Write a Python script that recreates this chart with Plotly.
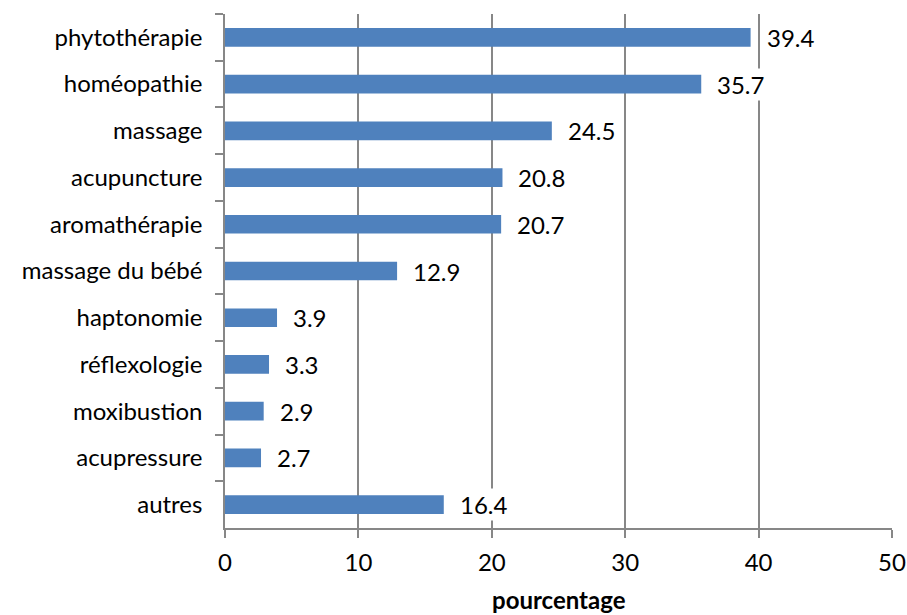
import plotly.graph_objects as go

categories = ["phytothérapie", "homéopathie", "massage", "acupuncture", "aromathérapie",
              "massage du bébé", "haptonomie", "réflexologie", "moxibustion", "acupressure", "autres"]
values = [39.4, 35.7, 24.5, 20.8, 20.7, 12.9, 3.9, 3.3, 2.9, 2.7, 16.4]
x_ticks = [0, 10, 20, 30, 40, 50]
x_title = "pourcentage"

FONT = "Lato"
FSIZE = 24
GRAY = "#878787"

fig = go.Figure(go.Bar(
    y=categories,
    x=values,
    orientation="h",
    marker=dict(color="#4F81BD", line=dict(width=0)),
    width=0.4,
    hoverinfo="x+y",
))

# value labels next to each bar, on a white box so gridlines pass behind them
for cat, val in zip(categories, values):
    fig.add_annotation(
        x=val, y=cat, xref="x", yref="y",
        text=f"{val}", showarrow=False,
        xanchor="left", yanchor="middle", xshift=14,
        font=dict(family=FONT, size=FSIZE, color="#000000"),
        bgcolor="white", borderpad=1,
    )

fig.update_layout(
    width=907, height=615,
    margin=dict(l=225, r=15, t=14, b=87),
    paper_bgcolor="white", plot_bgcolor="white",
    showlegend=False,
    font=dict(family=FONT, size=FSIZE, color="#000000"),
    xaxis=dict(
        range=[0, 50], tickvals=x_ticks, ticktext=[str(t) for t in x_ticks],
        showgrid=True, gridcolor=GRAY, gridwidth=1.5,
        showline=True, linecolor=GRAY, linewidth=1.5,
        ticks="outside", ticklen=8, tickcolor=GRAY, tickwidth=1.5,
        zeroline=False, automargin=False,
        ticklabelstandoff=4,
        tickfont=dict(family=FONT, size=FSIZE),
    ),
    yaxis=dict(
        categoryorder="array", categoryarray=categories,
        autorange="reversed",
        showline=True, linecolor=GRAY, linewidth=1.5,
        ticks="outside", ticklen=8, tickcolor=GRAY, tickwidth=1.5,
        tickson="boundaries", ticklabelstandoff=16,
        showgrid=False, zeroline=False, automargin=False,
        tickfont=dict(family=FONT, size=FSIZE),
    ),
)

# axis title below the tick labels
fig.add_annotation(
    x=0.5, y=-0.14, xref="paper", yref="paper", yanchor="middle",
    text="<b>" + x_title + "</b>", showarrow=False,
    font=dict(family=FONT, size=FSIZE, color="#000000"),
)

fig.write_html("out.html")
